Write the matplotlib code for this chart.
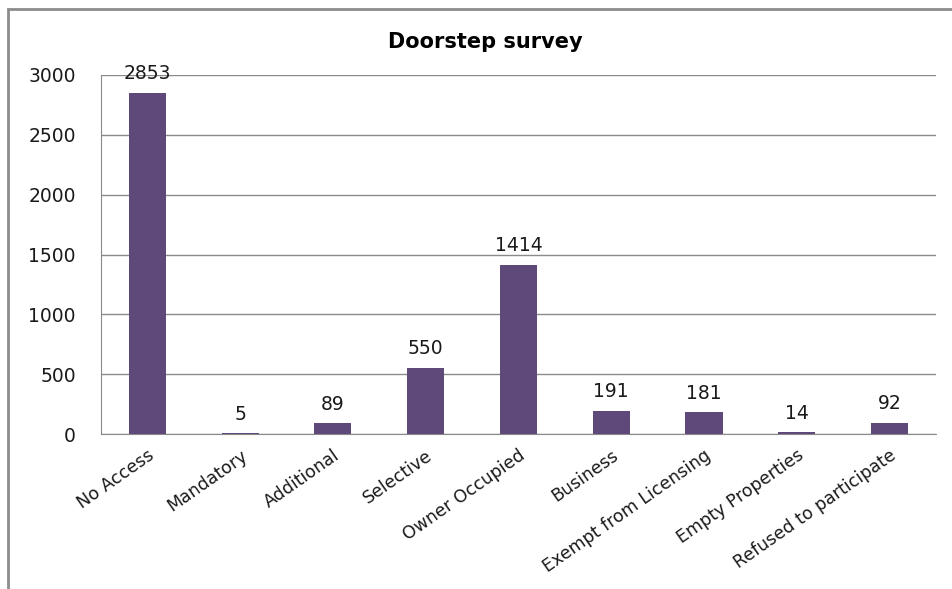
import matplotlib.pyplot as plt
from matplotlib.patches import Rectangle

categories = ["No Access", "Mandatory", "Additional", "Selective", "Owner Occupied",
              "Business", "Exempt from Licensing", "Empty Properties", "Refused to participate"]
values = [2853, 5, 89, 550, 1414, 191, 181, 14, 92]
yticks = [0, 500, 1000, 1500, 2000, 2500, 3000]

plt.rcParams['font.family'] = ['DejaVu Sans']

W, H = 953, 589
fig = plt.figure(figsize=(W / 100, H / 100), dpi=100)
fig.patch.set_facecolor('white')

# outer chart border (only left and top visible in the crop)
fig.add_artist(Rectangle((8 / W, -0.1), 1.2, (H - 9) / H + 0.1, transform=fig.transFigure,
                         fill=False, edgecolor='#8c8c8c', linewidth=2))

left, right, top, bottom = 101, 936, 75, 434
ax = fig.add_axes([left / W, 1 - bottom / H, (right - left) / W, (bottom - top) / H])
x = range(len(categories))
ax.bar(x, values, width=0.4, color='#5f497a', zorder=3)
ax.set_xlim(-0.5, len(categories) - 0.5)
ax.set_ylim(0, 3000)
ax.set_yticks(yticks)
ax.set_yticklabels([str(v) for v in yticks], fontsize=13.5, color='#1a1a1a')
ax.yaxis.grid(True, color='#8a8a8a', linewidth=1, zorder=0)
ax.tick_params(axis='both', length=0)
ax.tick_params(axis='y', pad=18)
ax.set_xticks(list(x))
ax.set_xticklabels(categories, rotation=35, ha='right', va='top', rotation_mode='anchor',
                   fontsize=12.5, color='#1a1a1a')
ax.tick_params(axis='x', pad=9)
for s in ['top', 'right']:
    ax.spines[s].set_visible(False)
ax.spines['left'].set_color('#8a8a8a')
ax.spines['bottom'].set_color('#8a8a8a')

for xi, v in zip(x, values):
    ax.annotate(str(v), (xi, v), xytext=(0, 7), textcoords='offset points',
                ha='center', va='bottom', fontsize=13.5, color='#1a1a1a')

fig.text(485 / W, 1 - 42 / H, "Doorstep survey", ha='center', va='center',
         fontsize=15, fontweight='bold')

fig.savefig('out.png', dpi=100)
